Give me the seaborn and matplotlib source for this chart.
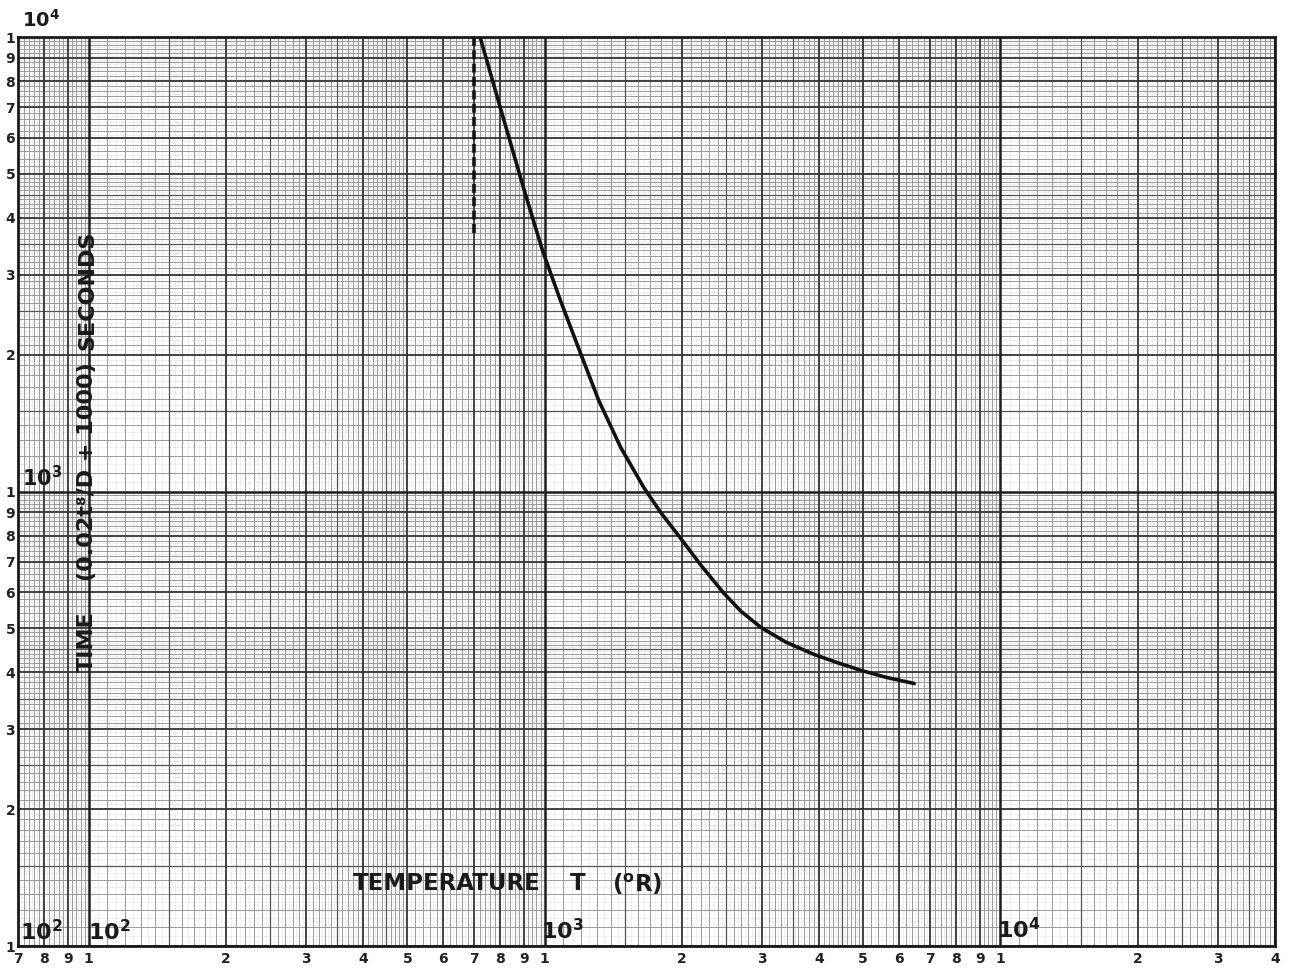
import numpy as np
import pandas as pd
import matplotlib
matplotlib.use("Agg")
import matplotlib.pyplot as plt
import seaborn as sns

# ---- data ----
temperature_R = [722, 800, 899, 990, 1084, 1200, 1315, 1469, 1651, 1798, 1990, 2203,
                 2474, 2697, 2984, 3386, 3901, 4362, 4948, 5617, 6471]
time_s = [10000, 6982, 4658, 3386, 2629, 2011, 1585, 1250, 1020, 899, 788, 688,
          597, 545, 502, 466, 438, 421, 404, 390, 378]
dashed_T = [700, 700]
dashed_t = [3700, 10000]

x_tick_vals = [70, 80, 90, 100, 200, 300, 400, 500, 600, 700, 800, 900,
               1000, 2000, 3000, 4000, 5000, 6000, 7000, 8000, 9000,
               10000, 20000, 30000, 40000]
x_tick_labels = ["7", "8", "9", "1", "2", "3", "4", "5", "6", "7", "8", "9",
                 "1", "2", "3", "4", "5", "6", "7", "8", "9",
                 "1", "2", "3", "4"]
y_tick_vals = [100, 200, 300, 400, 500, 600, 700, 800, 900,
               1000, 2000, 3000, 4000, 5000, 6000, 7000, 8000, 9000, 10000]
y_tick_labels = ["1", "2", "3", "4", "5", "6", "7", "8", "9",
                 "1", "2", "3", "4", "5", "6", "7", "8", "9", "1"]

sns.set_theme(style="white")
plt.rcParams['font.family'] = ['DejaVu Sans']

W, H = 1289, 968
L, R, T, B = 18, 1275, 37, 946
fig = plt.figure(figsize=(W / 100, H / 100), dpi=100)
fig.patch.set_facecolor("white")
ax = fig.add_axes([L / W, 1 - B / H, (R - L) / W, (B - T) / H])
ax.set_xscale("log")
ax.set_yscale("log")
ax.set_xlim(70, 40000)
ax.set_ylim(100, 10000)
ax.set_facecolor("white")


def grid_levels(lo_exp, hi_exp):
    lv = {1: [], 2: [], 3: [], 4: [], 5: []}
    for k in range(lo_exp, hi_exp + 1):
        d = 10.0 ** k
        lv[1].append(d)
        for m in range(2, 10):
            lv[2].append(m * d)
        for m in (1.5, 2.5, 3.5, 4.5):
            lv[3].append(m * d)
        for m in np.round(np.arange(1.1, 5.0, 0.1), 2):
            if abs(m * 2 - round(m * 2)) > 1e-6:
                lv[4].append(m * d)
        for m in np.round(np.arange(5.2, 10.0, 0.2), 2):
            if abs(m - round(m)) > 1e-6:
                lv[4].append(m * d)
        for m in np.round(np.arange(1.05, 2.0, 0.1), 3):
            lv[5].append(m * d)
        for m in np.round(np.arange(2.05, 5.0, 0.1), 3):
            lv[5].append(m * d)
        for m in np.round(np.arange(5.1, 10.0, 0.2), 2):
            lv[5].append(m * d)
    return lv


styles = {
    1: dict(lw=1.8, color="#1e1e1e", ls="-"),
    2: dict(lw=1.3, color="#333333", ls="-"),
    3: dict(lw=0.9, color="#555555", ls="-"),
    4: dict(lw=0.6, color="#8c8c8c", ls="-"),
    5: dict(lw=0.45, color="#c4c4c4", ls=(0, (1, 1.5))),
}

xlv = grid_levels(1, 4)
ylv = grid_levels(2, 3)
for lvl in (5, 4, 3, 2, 1):
    st = styles[lvl]
    for v in xlv[lvl]:
        if 70 <= v <= 40000:
            ax.axvline(v, lw=st["lw"], color=st["color"], ls=st["ls"], zorder=1)
    for v in ylv[lvl]:
        if 100 <= v <= 10000:
            ax.axhline(v, lw=st["lw"], color=st["color"], ls=st["ls"], zorder=1)

# ---- curves ----
df = pd.DataFrame({"T": temperature_R, "t": time_s})
sns.lineplot(data=df, x="T", y="t", ax=ax, color="#111111", lw=2.6, sort=False,
             estimator=None, zorder=5)
dd = pd.DataFrame({"T": dashed_T, "t": dashed_t})
sns.lineplot(data=dd, x="T", y="t", ax=ax, color="#111111", lw=2.6, sort=False,
             estimator=None, zorder=5, linestyle=(0, (2.5, 1.2)))

# ---- ticks ----
ax.set_xticks(x_tick_vals)
ax.set_xticklabels(x_tick_labels)
ax.set_yticks(y_tick_vals)
ax.set_yticklabels(y_tick_labels)
ax.xaxis.set_minor_locator(matplotlib.ticker.NullLocator())
ax.yaxis.set_minor_locator(matplotlib.ticker.NullLocator())
ax.tick_params(axis="both", which="both", length=0)
ax.tick_params(axis="x", pad=4, labelsize=10)
ax.tick_params(axis="y", pad=2, labelsize=10)
for lab in ax.get_xticklabels() + ax.get_yticklabels():
    lab.set_fontweight("bold")
    lab.set_color("#222222")
ax.set_xlabel("")
ax.set_ylabel("")
for sp in ax.spines.values():
    sp.set_linewidth(2.0)
    sp.set_color("#1a1a1a")


def fx(px):
    return (px - L) / (R - L)


def fy(py):
    return (B - py) / (B - T)


tk = dict(transform=ax.transAxes, fontweight="bold", color="#1a1a1a", zorder=6)
# axis titles inside the chart
ax.text(fx(353), fy(884), "TEMPERATURE", ha="left", va="center", fontsize=16.5, **tk)
ax.text(fx(578), fy(884), "T", ha="center", va="center", fontsize=16.5, **tk)
ax.text(fx(612), fy(884), "($^{\\mathbf{o}}$R)", ha="left", va="center", fontsize=16.5, **tk)

ax.text(fx(87), fy(642), "TIME", ha="center", va="center", rotation=90, fontsize=16, **tk)
ax.text(fx(87), fy(472), "(0.02t\u2078/D + 1000)", ha="center", va="center",
        rotation=90, fontsize=16, **tk)
ax.text(fx(87), fy(290), "SECONDS", ha="center", va="center", rotation=90, fontsize=16, **tk)

# decade markers
dec = dict(transform=ax.transAxes, color="#1a1a1a", zorder=6, ha="center", va="center")
ax.text(fx(41), fy(20), r"$\mathbf{10^{4}}$", fontsize=14, clip_on=False, **dec)
ax.text(fx(42), fy(478), r"$\mathbf{10^{3}}$", fontsize=15, **dec)
ax.text(fx(41), fy(932), r"$\mathbf{10^{2}}$", fontsize=16, **dec)
ax.text(fx(109), fy(932), r"$\mathbf{10^{2}}$", fontsize=16, **dec)
ax.text(fx(562), fy(931), r"$\mathbf{10^{3}}$", fontsize=16, **dec)
ax.text(fx(1019), fy(930), r"$\mathbf{10^{4}}$", fontsize=16, **dec)

fig.savefig("out.png", dpi=100, facecolor="white")
